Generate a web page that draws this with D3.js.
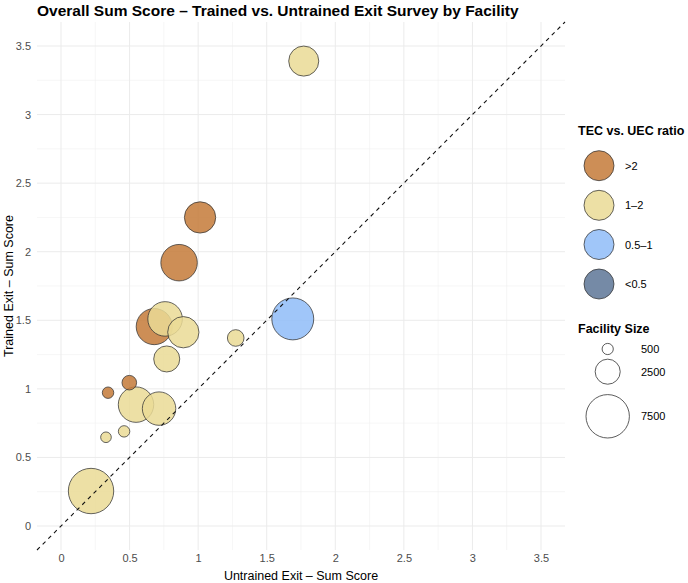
<!DOCTYPE html>
<html>
<head>
<meta charset="utf-8">
<script src="https://cdn.jsdelivr.net/npm/d3@7"></script>
<style>
body{margin:0;background:#fff;font-family:"Liberation Sans",Arial,sans-serif;}
</style>
</head>
<body>
<svg id="chart"></svg>
<script>
// values
var untrained=[1.77,1.014,0.861,1.69,0.68,0.759,0.892,0.771,1.274,0.715,0.343,0.498,0.547,0.46,0.328,0.219]
var trained=[3.39,2.25,1.92,1.51,1.454,1.51,1.413,1.218,1.371,0.856,0.972,1.045,0.885,0.69,0.647,0.255]
var facilitySize=[3600,3900,5300,7000,5200,4750,3900,2700,1100,4450,520,850,5000,520,450,8200]
var ratioGroup=["1–2",">2",">2","0.5–1",">2","1–2","1–2","1–2","1–2","1–2",">2",">2","1–2","1–2","1–2","1–2"]

var ratioLevels=[">2","1–2","0.5–1","<0.5"]
var ratioColors=["#C47A38","#EADB95","#8FBCF8","#5D7596"]
var sizeBreaks=[500,2500,7500]
var ticks=[0,0.5,1,1.5,2,2.5,3,3.5]

var screen={width:688,height:583}
var panel={left:37,right:565,top:22,bottom:550}

var svg=d3.select("#chart")
    .attr("width",screen.width)
    .attr("height",screen.height)

var xScale=d3.scaleLinear()
    .domain([-0.175,3.675])
    .range([panel.left,panel.right])
var yScale=d3.scaleLinear()
    .domain([-0.175,3.675])
    .range([panel.bottom,panel.top])
var rScale=d3.scaleSqrt()
    .domain([0,7500])
    .range([0,21.7])
var colorScale=d3.scaleOrdinal()
    .domain(ratioLevels)
    .range(ratioColors)

//grid
var minor=d3.range(0.25,3.7,0.5)
var grid=svg.append("g")
grid.selectAll(".vmin").data(minor).enter().append("line")
    .attr("x1",function(d){return xScale(d)}).attr("x2",function(d){return xScale(d)})
    .attr("y1",panel.top).attr("y2",panel.bottom)
    .attr("stroke","#F0F0F0").attr("stroke-width",0.6)
grid.selectAll(".hmin").data(minor).enter().append("line")
    .attr("y1",function(d){return yScale(d)}).attr("y2",function(d){return yScale(d)})
    .attr("x1",panel.left).attr("x2",panel.right)
    .attr("stroke","#F0F0F0").attr("stroke-width",0.6)
grid.selectAll(".vmaj").data(ticks).enter().append("line")
    .attr("x1",function(d){return xScale(d)}).attr("x2",function(d){return xScale(d)})
    .attr("y1",panel.top).attr("y2",panel.bottom)
    .attr("stroke","#EBEBEB").attr("stroke-width",1)
grid.selectAll(".hmaj").data(ticks).enter().append("line")
    .attr("y1",function(d){return yScale(d)}).attr("y2",function(d){return yScale(d)})
    .attr("x1",panel.left).attr("x2",panel.right)
    .attr("stroke","#EBEBEB").attr("stroke-width",1)

//axes (labels only, like theme_minimal)
var xAxis=svg.append("g")
    .attr("transform","translate(0,"+panel.bottom+")")
    .call(d3.axisBottom(xScale).tickValues(ticks).tickFormat(d3.format("")).tickSize(0).tickPadding(4))
var yAxis=svg.append("g")
    .attr("transform","translate("+(panel.left-6)+",0)")
    .call(d3.axisLeft(yScale).tickValues(ticks).tickFormat(d3.format("")).tickSize(0).tickPadding(0))
svg.selectAll(".domain").remove()
svg.selectAll(".tick text")
    .attr("fill","#4D4D4D")
    .style("font-family","Liberation Sans, Arial, sans-serif")
    .style("font-size","11px")

//points
var points=untrained.map(function(u,i){
    return {x:u,y:trained[i],size:facilitySize[i],ratio:ratioGroup[i]}
})
points.sort(function(a,b){return b.size-a.size})

svg.append("g")
    .selectAll("circle")
    .data(points)
    .enter()
    .append("circle")
    .attr("cx",function(d){return xScale(d.x)})
    .attr("cy",function(d){return yScale(d.y)})
    .attr("r",function(d){return rScale(d.size)})
    .attr("fill",function(d){return colorScale(d.ratio)})
    .attr("fill-opacity",0.85)
    .attr("stroke","#333")
    .attr("stroke-opacity",0.75)
    .attr("stroke-width",1)

//y = x reference line
svg.append("line")
    .attr("x1",xScale(-0.175)).attr("y1",yScale(-0.175))
    .attr("x2",xScale(3.675)).attr("y2",yScale(3.675))
    .attr("stroke","#111")
    .attr("stroke-width",1.1)
    .attr("stroke-dasharray","4,4")

//titles
svg.append("text")
    .attr("x",panel.left).attr("y",16)
    .attr("font-size","15.5px").attr("font-weight","bold").attr("fill","#000")
    .text("Overall Sum Score – Trained vs. Untrained Exit Survey by Facility")
svg.append("text")
    .attr("x",(panel.left+panel.right)/2).attr("y",580)
    .attr("text-anchor","middle").attr("font-size","12.5px").attr("fill","#000")
    .text("Untrained Exit – Sum Score")
svg.append("text")
    .attr("transform","translate(13,"+((panel.top+panel.bottom)/2)+") rotate(-90)")
    .attr("text-anchor","middle").attr("font-size","12.5px").attr("fill","#000")
    .text("Trained Exit – Sum Score")

//colour legend
var legend=svg.append("g")
legend.append("text")
    .attr("x",578).attr("y",135)
    .attr("font-size","12.5px").attr("font-weight","bold")
    .text("TEC vs. UEC ratio")
var keyY=[165.7,205.3,244.5,284]
ratioLevels.forEach(function(lvl,i){
    legend.append("circle")
        .attr("cx",599).attr("cy",keyY[i]).attr("r",15)
        .attr("fill",colorScale(lvl)).attr("fill-opacity",0.85)
        .attr("stroke","#333").attr("stroke-opacity",0.75)
    legend.append("text")
        .attr("x",625).attr("y",keyY[i]+4)
        .attr("font-size","11px").attr("fill","#000")
        .text(lvl)
})

//size legend
legend.append("text")
    .attr("x",578).attr("y",333)
    .attr("font-size","12.5px").attr("font-weight","bold")
    .text("Facility Size")
var sizeY=[349,371.7,416.3]
sizeBreaks.forEach(function(s,i){
    legend.append("circle")
        .attr("cx",607.7).attr("cy",sizeY[i]).attr("r",rScale(s))
        .attr("fill","#fff")
        .attr("stroke","#333").attr("stroke-width",0.8)
    legend.append("text")
        .attr("x",641).attr("y",sizeY[i]+4)
        .attr("font-size","11px").attr("fill","#000")
        .text(s)
})
</script>
</body>
</html>
